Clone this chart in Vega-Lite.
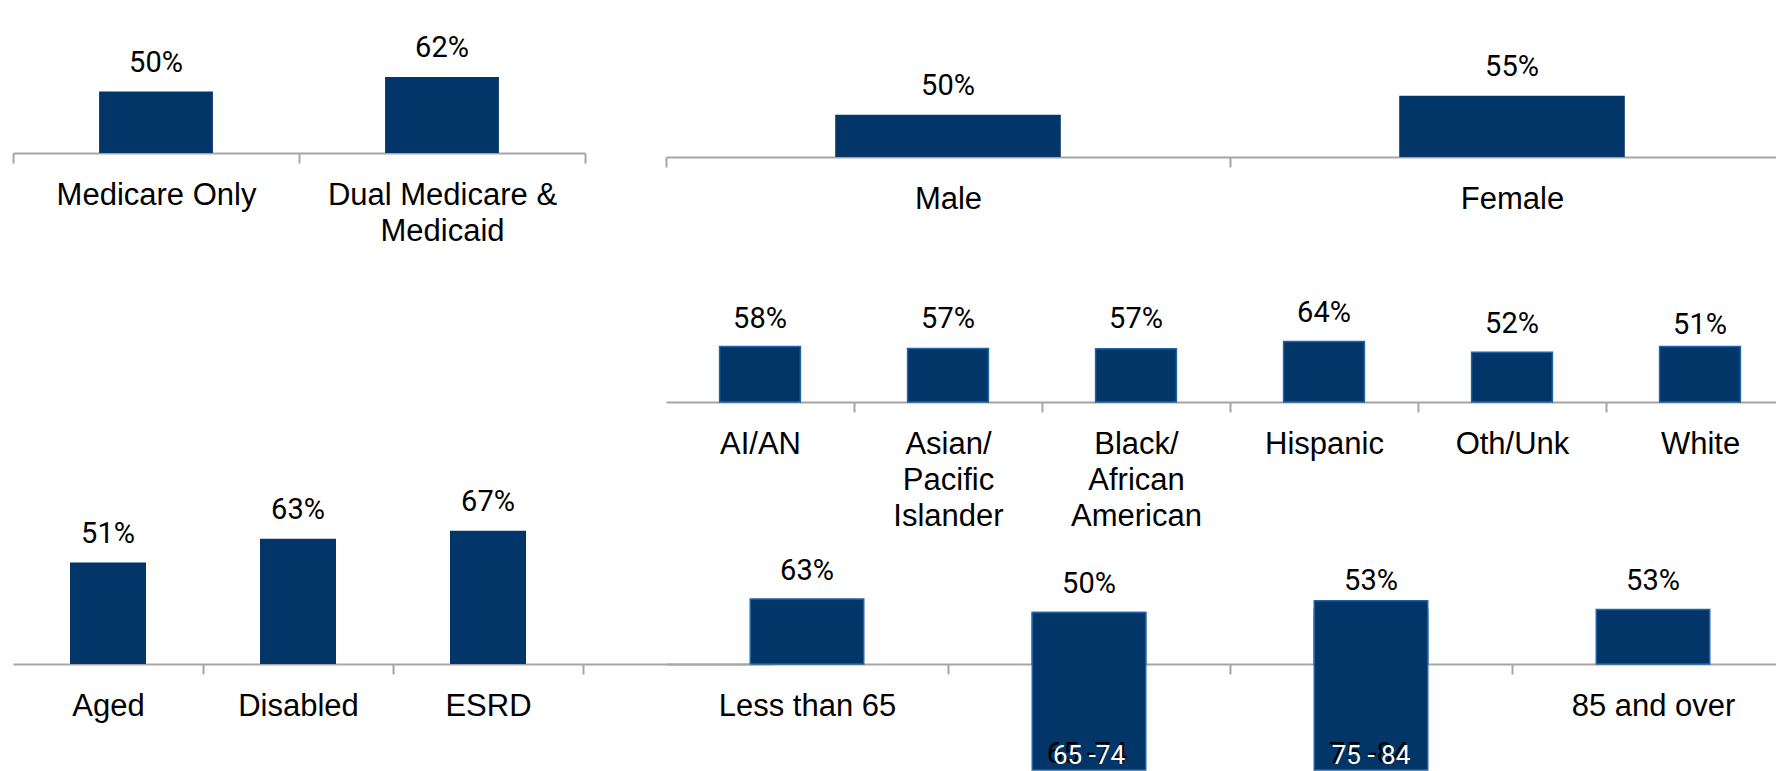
{
  "$schema": "https://vega.github.io/schema/vega-lite/v6.json",
  "padding": {"left": 12, "top": 0, "right": 0, "bottom": 0},
  "autosize": {"type": "pad"},
  "background": "white",
  "bounds": "flush",
  "spacing": 81,
  "datasets": {
    "medicare": [
      {"group": "Medicare Only", "rate": 0.50},
      {"group": "Dual Medicare &\nMedicaid", "rate": 0.62}
    ],
    "entitlement": [
      {"group": "Aged", "rate": 0.51},
      {"group": "Disabled", "rate": 0.63},
      {"group": "ESRD", "rate": 0.67}
    ],
    "gender": [
      {"group": "Male", "rate": 0.50},
      {"group": "Female", "rate": 0.55}
    ],
    "race": [
      {"group": "AI/AN", "rate": 0.58, "bar": 0.585},
      {"group": "Asian/\nPacific\nIslander", "rate": 0.57, "bar": 0.565},
      {"group": "Black/\nAfrican\nAmerican", "rate": 0.57, "bar": 0.563},
      {"group": "Hispanic", "rate": 0.64, "bar": 0.637},
      {"group": "Oth/Unk", "rate": 0.52, "bar": 0.524},
      {"group": "White", "rate": 0.51, "bar": 0.585}
    ],
    "age": [
      {"group": "Less than 65", "rate": 0.63},
      {"group": "65 - 74", "rate": 0.50},
      {"group": "75 - 84", "rate": 0.53},
      {"group": "85 and over", "rate": 0.53}
    ],
    "ageOverlay": [
      {"group": "65 - 74", "top": 0.50, "tag": "65 -74", "shadow": "65 -74"},
      {"group": "75 - 84", "top": 0.615, "tag": "75 - 84", "shadow": "75 -84"}
    ]
  },
  "config": {
    "view": {"stroke": null},
    "bar": {"color": "#033668"},
    "text": {"font": "Roboto", "fontSize": 29, "color": "#000000", "baseline": "alphabetic", "align": "center"},
    "axisX": {
      "orient": "bottom",
      "domainColor": "#a6a6a6",
      "domainWidth": 2,
      "tickColor": "#a6a6a6",
      "tickWidth": 2,
      "tickSize": 10,
      "tickBand": "extent",
      "labelAngle": 0,
      "labelFont": "Liberation Sans",
      "labelFontSize": 31,
      "labelColor": "#000000",
      "labelBaseline": "alphabetic",
      "labelPadding": 41,
      "labelLineHeight": 36,
      "labelLimit": 0,
      "labelOverlap": false,
      "grid": false
    }
  },
  "hconcat": [
    {
      "width": 572,
      "height": 664,
      "resolve": {"scale": {"x": "independent", "y": "independent"}, "axis": {"x": "independent"}},
      "layer": [
        {
          "data": {"name": "medicare"},
          "encoding": {
            "x": {"field": "group", "type": "nominal", "sort": null, "scale": {"paddingInner": 0, "paddingOuter": 0}, "axis": {"title": null, "orient": "bottom", "offset": -511, "labelExpr": "split(datum.label, '\\n')"}},
            "y": {"field": "rate", "type": "quantitative", "scale": {"domain": [-4.161, 1.246]}, "axis": null}
          },
          "layer": [
            {"mark": {"type": "bar", "width": {"band": 0.398}}},
            {"mark": {"type": "text", "dy": -19.5}, "encoding": {"text": {"field": "rate", "format": ".0%"}}}
          ]
        },
        {
          "data": {"name": "entitlement"},
          "encoding": {
            "x": {"field": "group", "type": "nominal", "scale": {"domain": ["Aged", "Disabled", "ESRD", ""], "range": [0, 760], "paddingInner": 0, "paddingOuter": 0}, "axis": {"title": null, "orient": "bottom", "tickOpacity": {"condition": {"test": "!datum.value", "value": 0}, "value": 1}}},
            "y": {"field": "rate", "type": "quantitative", "scale": {"domain": [0, 3.337]}, "axis": null}
          },
          "layer": [
            {"mark": {"type": "bar", "width": {"band": 0.4}}},
            {"mark": {"type": "text", "dy": -19.5}, "encoding": {"text": {"field": "rate", "format": ".0%"}}}
          ]
        }
      ]
    },
    {
      "width": 1128,
      "height": 664,
      "resolve": {"scale": {"x": "independent", "y": "independent"}, "axis": {"x": "independent"}},
      "layer": [
        {
          "data": {"name": "gender"},
          "encoding": {
            "x": {"field": "group", "type": "nominal", "sort": null, "scale": {"paddingInner": 0, "paddingOuter": 0}, "axis": {"title": null, "orient": "bottom", "offset": -507}},
            "y": {"field": "rate", "type": "quantitative", "scale": {"domain": [-0.945, 0.802]}, "axis": null}
          },
          "layer": [
            {"mark": {"type": "bar", "width": {"band": 0.4}}, "encoding": {"y2": {"datum": 0.389}}},
            {"mark": {"type": "text", "dy": -19.5}, "encoding": {"text": {"field": "rate", "format": ".0%"}}}
          ]
        },
        {
          "data": {"name": "race"},
          "encoding": {
            "x": {"field": "group", "type": "nominal", "sort": null, "scale": {"paddingInner": 0, "paddingOuter": 0}, "axis": {"title": null, "orient": "bottom", "offset": -262, "labelExpr": "split(datum.label, '\\n')", "tickOpacity": {"condition": {"test": "!datum.value", "value": 0}, "value": 1}}}
          },
          "layer": [
            {"mark": {"type": "bar", "width": {"band": 0.43}, "stroke": "#2163a8", "strokeWidth": 1.5}, "encoding": {"y": {"field": "bar", "type": "quantitative", "scale": {"domain": [-2.764, 4.241]}, "axis": null}}},
            {"mark": {"type": "text", "dy": -19.5}, "encoding": {"y": {"field": "rate", "type": "quantitative", "scale": {"domain": [-2.764, 4.241]}, "axis": null}, "text": {"field": "rate", "format": ".0%"}}}
          ]
        },
        {
          "encoding": {
            "x": {"field": "group", "type": "nominal", "scale": {"domain": ["Less than 65", "65 - 74", "75 - 84", "85 and over"], "paddingInner": 0, "paddingOuter": 0}, "axis": {"title": null, "orient": "bottom", "tickOpacity": {"condition": {"test": "!datum.value", "value": 0}, "value": 1}}}
          },
          "layer": [
            {"data": {"name": "age"}, "mark": {"type": "bar", "width": {"band": 0.4025}, "stroke": "#2163a8", "strokeWidth": 1.5}, "encoding": {"y": {"field": "rate", "type": "quantitative", "scale": {"domain": [0, 6.447]}, "axis": null}}},
            {"data": {"name": "age"}, "mark": {"type": "text", "dy": -19.5}, "encoding": {"y": {"field": "rate", "type": "quantitative", "scale": {"domain": [0, 6.447]}, "axis": null}, "text": {"field": "rate", "format": ".0%"}}},
            {"data": {"name": "ageOverlay"}, "mark": {"type": "bar", "width": {"band": 0.4025}, "stroke": "#2163a8", "strokeWidth": 1.5}, "encoding": {"y": {"field": "top", "type": "quantitative", "scale": {"domain": [0, 6.447]}, "axis": null}, "y2": {"datum": -1.03}}},
            {"data": {"name": "ageOverlay"}, "mark": {"type": "text", "dx": -2, "color": "#000000", "fontSize": 29}, "encoding": {"y": {"datum": -0.965, "type": "quantitative", "scale": {"domain": [0, 6.447]}, "axis": null}, "text": {"field": "shadow"}}},
            {"data": {"name": "ageOverlay"}, "mark": {"type": "text", "color": "#ffffff", "fontSize": 26}, "encoding": {"y": {"datum": -0.975, "type": "quantitative", "scale": {"domain": [0, 6.447]}, "axis": null}, "text": {"field": "tag"}}}
          ]
        }
      ]
    }
  ]
}
